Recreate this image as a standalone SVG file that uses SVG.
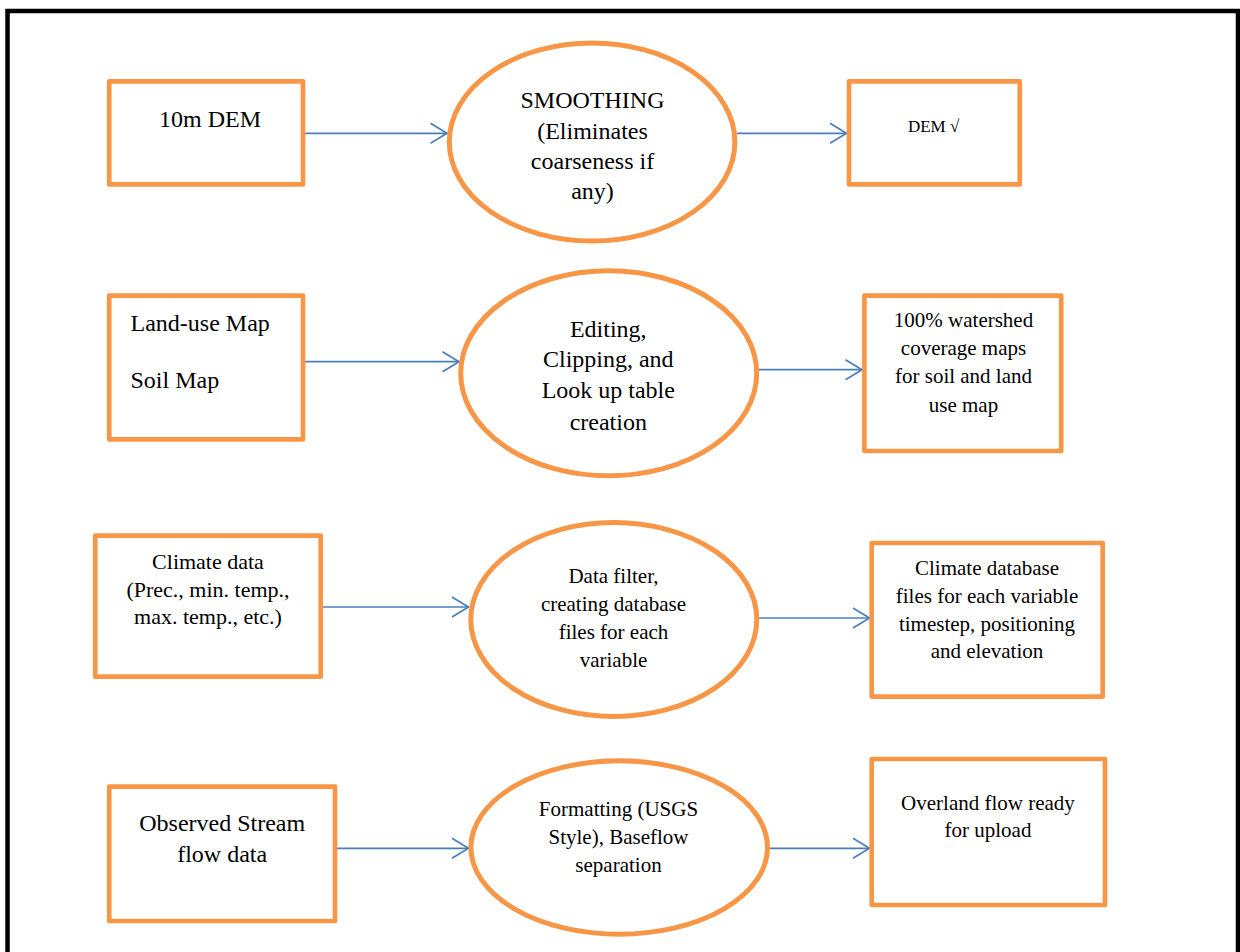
<svg xmlns="http://www.w3.org/2000/svg" width="1240" height="952" viewBox="0 0 1240 952">
  <style>
    .box { fill: #FFFFFF; stroke: #F79646; stroke-width: 4.7; stroke-linejoin: round; }
    .oval { fill: #FFFFFF; stroke: #F79646; stroke-width: 5; }
    .conn { fill: none; stroke: #4A7EBB; stroke-width: 1.7; }
    .t24 { font-family: "Liberation Serif", "Times New Roman", serif; font-size: 24px; fill: #000000; }
    .t22 { font-family: "Liberation Serif", "Times New Roman", serif; font-size: 22px; fill: #000000; }
    .t21 { font-family: "Liberation Serif", "Times New Roman", serif; font-size: 21px; fill: #000000; }
    .t17 { font-family: "Liberation Serif", "Times New Roman", serif; font-size: 17px; fill: #000000; }
    .mid { text-anchor: middle; }
  </style>
  <defs>
    <marker id="arrow" markerUnits="userSpaceOnUse" viewBox="-19 -12 21 24" refX="0" refY="0" markerWidth="21" markerHeight="24" orient="auto">
      <path d="M-16.5,-10 L0,0 L-16.5,10" fill="none" stroke="#4A7EBB" stroke-width="1.7"/>
    </marker>
  </defs>
  <rect x="0" y="0" width="1240" height="952" fill="#FFFFFF"/>
  <path d="M7.5,952 V11 H1238 V952" fill="none" stroke="#000000" stroke-width="4.5"/>

  <g id="connectors">
    <line class="conn" x1="305" y1="133.3" x2="447" y2="133.3" marker-end="url(#arrow)"/>
    <line class="conn" x1="737" y1="133.3" x2="846.5" y2="133.3" marker-end="url(#arrow)"/>
    <line class="conn" x1="305" y1="361.7" x2="459" y2="361.7" marker-end="url(#arrow)"/>
    <line class="conn" x1="759" y1="369.7" x2="862" y2="369.7" marker-end="url(#arrow)"/>
    <line class="conn" x1="323" y1="607" x2="468.5" y2="607" marker-end="url(#arrow)"/>
    <line class="conn" x1="759" y1="618" x2="869.5" y2="618" marker-end="url(#arrow)"/>
    <line class="conn" x1="337" y1="848.3" x2="468.5" y2="848.3" marker-end="url(#arrow)"/>
    <line class="conn" x1="770" y1="848.3" x2="869.5" y2="848.3" marker-end="url(#arrow)"/>
  </g>

  <g id="dem10m">
    <rect class="box" x="109.2" y="81.4" width="193.8" height="103"/>
    <text class="t24 mid" x="210" y="126.5">10m DEM</text>
  </g>
  <g id="smoothing">
    <ellipse class="oval" cx="592.1" cy="142" rx="142.8" ry="99"/>
    <text class="t24 mid" x="592.5" y="108.3">SMOOTHING</text>
    <text class="t24 mid" x="592.5" y="139">(Eliminates</text>
    <text class="t24 mid" x="592.5" y="169.3">coarseness if</text>
    <text class="t24 mid" x="592.5" y="199">any)</text>
  </g>
  <g id="dem">
    <rect class="box" x="849" y="81.4" width="170.8" height="103"/>
    <text class="t17 mid" x="933.6" y="131.7">DEM √</text>
  </g>

  <g id="landuse">
    <rect class="box" x="109.2" y="295.6" width="193.8" height="143.8"/>
    <text class="t24" x="130.5" y="330.7">Land-use Map</text>
    <text class="t24" x="130.5" y="388.3">Soil Map</text>
  </g>
  <g id="editing">
    <ellipse class="oval" cx="608.7" cy="373.3" rx="148" ry="102.5"/>
    <text class="t24 mid" x="608.3" y="336.8">Editing,</text>
    <text class="t24 mid" x="608.3" y="367.3">Clipping, and</text>
    <text class="t24 mid" x="608.3" y="398.3">Look up table</text>
    <text class="t24 mid" x="608.3" y="429.6">creation</text>
  </g>
  <g id="coverage">
    <rect class="box" x="864.4" y="295.6" width="196.8" height="155.4"/>
    <text class="t21 mid" x="963.5" y="326.7">100% watershed</text>
    <text class="t21 mid" x="963.5" y="355">coverage maps</text>
    <text class="t21 mid" x="963.5" y="383.3">for soil and land</text>
    <text class="t21 mid" x="963.5" y="411.7">use map</text>
  </g>

  <g id="climate">
    <rect class="box" x="95.2" y="535.6" width="225.5" height="141.1"/>
    <text class="t22 mid" x="208" y="569">Climate data</text>
    <text class="t22 mid" x="208" y="596.5">(Prec., min. temp.,</text>
    <text class="t22 mid" x="208" y="623.5">max. temp., etc.)</text>
  </g>
  <g id="datafilter">
    <ellipse class="oval" cx="613.8" cy="619.5" rx="143" ry="97"/>
    <text class="t21 mid" x="613.5" y="583">Data filter,</text>
    <text class="t21 mid" x="613.5" y="611">creating database</text>
    <text class="t21 mid" x="613.5" y="639">files for each</text>
    <text class="t21 mid" x="613.5" y="666.7">variable</text>
  </g>
  <g id="climatedb">
    <rect class="box" x="871.7" y="543" width="231" height="153.6"/>
    <text class="t21 mid" x="987" y="575">Climate database</text>
    <text class="t21 mid" x="987" y="602.7">files for each variable</text>
    <text class="t21 mid" x="987" y="631">timestep, positioning</text>
    <text class="t21 mid" x="987" y="658.3">and elevation</text>
  </g>

  <g id="streamflow">
    <rect class="box" x="109.2" y="786.7" width="225.8" height="134.3"/>
    <text class="t24 mid" x="222.2" y="830.7">Observed Stream</text>
    <text class="t24 mid" x="222.2" y="861.7">flow data</text>
  </g>
  <g id="formatting">
    <ellipse class="oval" cx="619.2" cy="847.5" rx="148.3" ry="86.7"/>
    <text class="t21 mid" x="618.5" y="816">Formatting (USGS</text>
    <text class="t21 mid" x="618.5" y="844">Style), Baseflow</text>
    <text class="t21 mid" x="618.5" y="871.7">separation</text>
  </g>
  <g id="overland">
    <rect class="box" x="871.7" y="759" width="233.3" height="146"/>
    <text class="t21 mid" x="988" y="810">Overland flow ready</text>
    <text class="t21 mid" x="988" y="836.7">for upload</text>
  </g>
</svg>
